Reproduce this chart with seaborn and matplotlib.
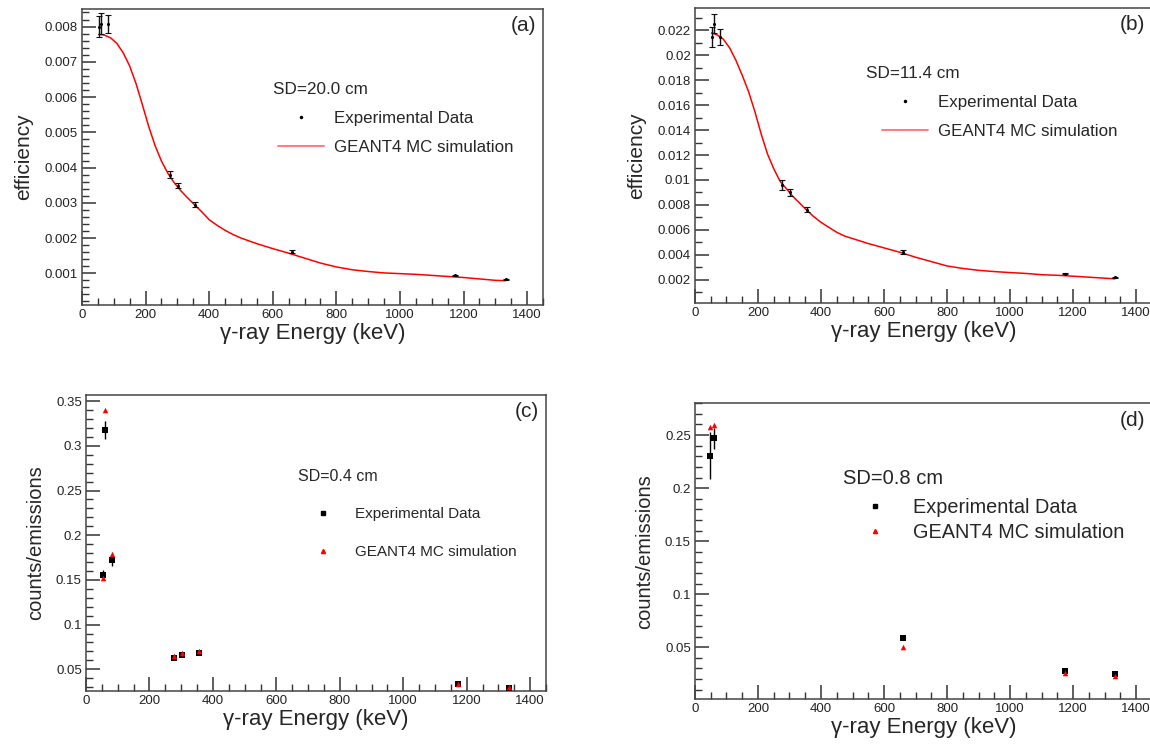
import numpy as np
import pandas as pd
import seaborn as sns
import matplotlib
matplotlib.use("Agg")
import matplotlib.pyplot as plt
from matplotlib.ticker import MultipleLocator, FuncFormatter
from matplotlib.lines import Line2D

# --- data ---
energies_ab = [53.2, 59.5, 81.0, 276.4, 302.9, 356.0, 661.7, 1173.2, 1332.5]
eff_a = [0.0080, 0.00808, 0.00808, 0.0038, 0.00349, 0.00295, 0.00161, 0.00094, 0.00083]
err_a = [0.0003, 0.0003, 0.00026, 0.0001, 0.00008, 0.00006, 0.00004, 0.00002, 0.00001]
eff_b = [0.02147, 0.02254, 0.02147, 0.0096, 0.0090, 0.0076, 0.0042, 0.00248, 0.00219]
err_b = [0.0008, 0.00075, 0.00067, 0.0004, 0.0003, 0.0002, 0.00015, 0.00005, 0.00004]

# GEANT4 curves (a) and (b)
curve_a_x = [53, 70, 90, 110, 130, 150, 170, 190, 210, 230, 250, 270, 290, 310, 330,
             350, 375, 400, 425, 450, 475, 500, 550, 600, 650, 700, 750, 800, 850,
             900, 950, 1000, 1050, 1100, 1150, 1200, 1250, 1300, 1332]
curve_a_y = [0.00778, 0.00776, 0.00768, 0.00752, 0.00725, 0.00688, 0.00638, 0.00578,
             0.00516, 0.00462, 0.00418, 0.00384, 0.00357, 0.00335, 0.00316, 0.00298,
             0.00276, 0.00252, 0.00236, 0.00222, 0.0021, 0.00200, 0.00184, 0.00170,
             0.00157, 0.00143, 0.00129, 0.00118, 0.00110, 0.00105, 0.00101, 0.00099,
             0.00097, 0.00094, 0.00091, 0.00088, 0.00084, 0.00080, 0.00079]
curve_b_x = [53, 70, 90, 110, 130, 150, 170, 190, 210, 230, 250, 270, 290, 310, 330,
             350, 375, 400, 425, 450, 475, 500, 550, 600, 650, 700, 750, 800, 850,
             900, 950, 1000, 1050, 1100, 1150, 1200, 1250, 1300, 1332]
curve_b_y = [0.0218, 0.02165, 0.0213, 0.0206, 0.0196, 0.0184, 0.0171, 0.0155, 0.0137,
             0.0121, 0.0109, 0.0099, 0.0093, 0.0087, 0.0082, 0.0077, 0.0071, 0.0066,
             0.0062, 0.0058, 0.0055, 0.0053, 0.0049, 0.00455, 0.0042, 0.0038, 0.00345,
             0.0031, 0.0029, 0.00275, 0.00265, 0.00257, 0.0025, 0.0024, 0.00235,
             0.00228, 0.0022, 0.00212, 0.00207]

energies_c = [53.2, 59.5, 81.0, 276.4, 302.9, 356.0, 1173.2, 1332.5]
exp_c = [0.1557, 0.3175, 0.1718, 0.0623, 0.066, 0.0686, 0.0332, 0.0294]
exp_c_err = [0.005, 0.010, 0.006, 0.002, 0.002, 0.002, 0.001, 0.001]
sim_c = [0.152, 0.340, 0.179, 0.0653, 0.0686, 0.0705, 0.034, 0.030]

energies_d = [46.5, 59.5, 661.7, 1173.2, 1332.5]
exp_d = [0.2305, 0.2469, 0.0585, 0.028, 0.0249]
exp_d_err = [0.022, 0.010, 0.001, 0.001, 0.001]
sim_d = [0.2578, 0.2594, 0.0506, 0.0255, 0.023]

legend_labels = ["Experimental Data", "GEANT4 MC simulation"]

sns.set_style("white")
plt.rcParams["font.family"] = ["Liberation Sans", "DejaVu Sans"]

W, H = 1150, 747
fig = plt.figure(figsize=(W / 100, H / 100), dpi=100)
ax_a = fig.add_axes([0.0713, 0.5917, 0.4009, 0.3963])
ax_b = fig.add_axes([0.6043, 0.5944, 0.3974, 0.3949])
ax_c = fig.add_axes([0.0748, 0.0750, 0.4000, 0.3963])
ax_d = fig.add_axes([0.6043, 0.0639, 0.3974, 0.3963])

fmt = FuncFormatter(lambda v, p: "%g" % round(v, 6))


def px(x, y):
    # figure pixel position (from top left) -> figure fraction
    return x / W, 1 - y / H


def style_axes(ax, ylim, ymaj, ymin, ylabel, ylabel_size, tag):
    ax.set_xlim(0, 1450)
    ax.set_ylim(*ylim)
    ax.xaxis.set_major_locator(MultipleLocator(200))
    ax.xaxis.set_minor_locator(MultipleLocator(50))
    ax.yaxis.set_major_locator(MultipleLocator(ymaj))
    ax.yaxis.set_minor_locator(MultipleLocator(ymin))
    ax.yaxis.set_major_formatter(fmt)
    ax.xaxis.set_major_formatter(fmt)
    ax.tick_params(which="both", direction="in", left=True, bottom=True, top=False,
                   right=False, colors="#333333", labelcolor="#222222",
                   labelsize=9.5, pad=3)
    ax.tick_params(which="major", length=10, width=1.1)
    ax.tick_params(which="minor", length=5, width=1.0)
    for s in ax.spines.values():
        s.set_color("#444444")
        s.set_linewidth(1.1)
    ax.set_xlabel("γ-ray Energy (keV)", fontsize=16, labelpad=1)
    ax.set_ylabel(ylabel, fontsize=ylabel_size, labelpad=8)
    ax.text(0.985, 0.975, tag, transform=ax.transAxes, ha="right", va="top", fontsize=15)


def add_legend(ax, handles, title, title_xy, title_size, anchor_xy, size,
               hlen, hpad, lspace):
    fig.text(*px(*title_xy), title, fontsize=title_size, ha="left", va="center")
    ax.legend(handles, legend_labels, frameon=False, loc="upper left",
              bbox_to_anchor=px(*anchor_xy), bbox_transform=fig.transFigure,
              fontsize=size, handlelength=hlen, handletextpad=hpad,
              labelspacing=lspace, borderpad=0, borderaxespad=0)


# (a) and (b): efficiency vs energy
for ax, eff, err, cx, cy in [(ax_a, eff_a, err_a, curve_a_x, curve_a_y),
                             (ax_b, eff_b, err_b, curve_b_x, curve_b_y)]:
    sns.lineplot(x=cx, y=cy, ax=ax, color="red", linewidth=1.1, label="_nolegend_")
    ax.errorbar(energies_ab, eff, yerr=err, fmt="none", ecolor="#111111",
                elinewidth=1.0, capsize=2, capthick=0.8)
    sns.scatterplot(x=energies_ab, y=eff, ax=ax, color="black", s=5, marker="o",
                    edgecolor="black", linewidth=0, zorder=5)

style_axes(ax_a, (0.0001, 0.0085), 0.001, 0.0002, "efficiency", 15, "(a)")
style_axes(ax_b, (0.00013, 0.0238), 0.002, 0.001, "efficiency", 15, "(b)")

h_ab = [Line2D([], [], color="black", marker="o", markersize=1.5, linestyle="none"),
        Line2D([], [], color="#ff7070", linewidth=1.3)]
add_legend(ax_a, h_ab, "SD=20.0 cm", (273, 90), 12.3, (278, 111), 12.2, 2.7, 0.6, 0.85)
add_legend(ax_b, h_ab, "SD=11.4 cm", (866, 74), 12.3, (882, 95), 12.2, 2.7, 0.6, 0.85)

# (c) and (d): counts/emissions
for ax, en, ex, exe, sm in [(ax_c, energies_c, exp_c, exp_c_err, sim_c),
                            (ax_d, energies_d, exp_d, exp_d_err, sim_d)]:
    ax.errorbar(en, ex, yerr=exe, fmt="none", ecolor="black", elinewidth=1.0, capsize=0)
    sns.scatterplot(x=en, y=ex, ax=ax, color="black", marker="s", s=22,
                    linewidth=0, zorder=4)
    sns.scatterplot(x=en, y=sm, ax=ax, color="red", marker="^", s=16,
                    linewidth=0, zorder=5)

style_axes(ax_c, (0.0257, 0.357), 0.05, 0.01, "counts/emissions", 14.5, "(c)")
style_axes(ax_d, (0.001, 0.28), 0.05, 0.01, "counts/emissions", 14.5, "(d)")

h_cd = [Line2D([], [], color="black", marker="s", markersize=3.2, linestyle="none"),
        Line2D([], [], color="red", marker="^", markersize=3, linestyle="none")]
add_legend(ax_c, h_cd, "SD=0.4 cm", (298, 477), 11.5, (308, 507), 11, 2.0, 1.07, 1.6)
add_legend(ax_d, h_cd, "SD=0.8 cm", (843, 478), 14.5, (860, 498), 14.3, 1.5, 1.15, 0.3)

fig.savefig("out.png", dpi=100)
